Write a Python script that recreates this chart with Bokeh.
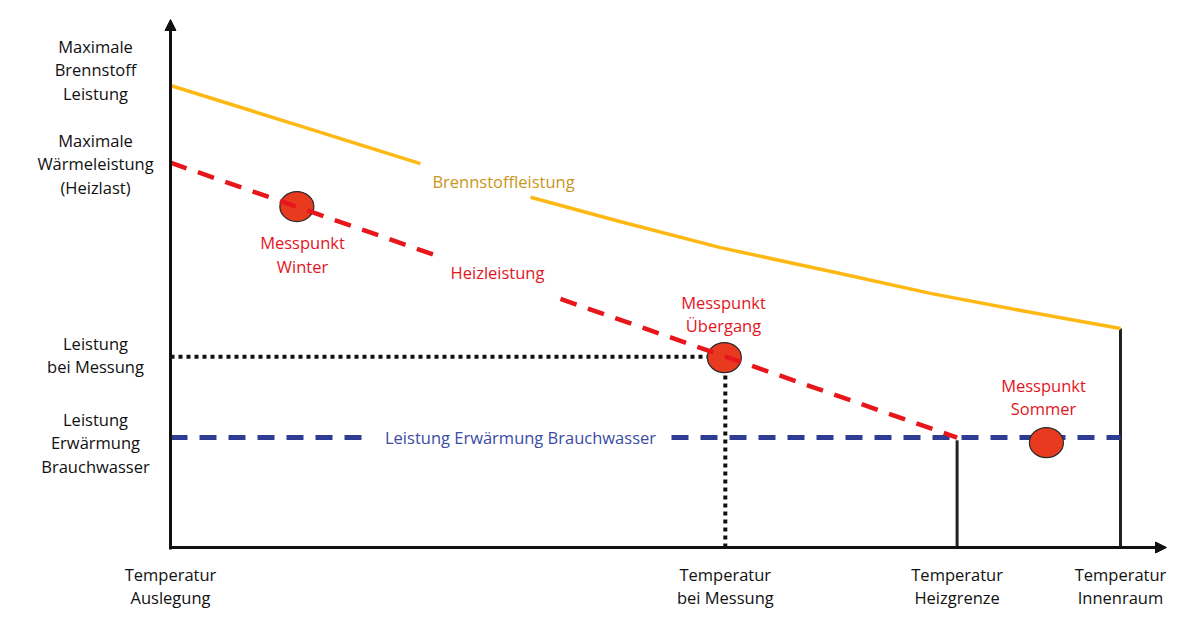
import numpy as np
from bokeh.plotting import figure
from bokeh.models import Range1d, Arrow, NormalHead
from bokeh.core.properties import value
from bokeh.embed import file_html
from bokeh.resources import INLINE

# ---------------- data (schematic units: temperature 0..100, power 0..100) -------------
temp_names = ["Temperatur\nAuslegung", "Temperatur\nbei Messung",
              "Temperatur\nHeizgrenze", "Temperatur\nInnenraum"]
temp_values = [0.0, 58.4, 82.8, 100.0]

power_names = ["Maximale\nBrennstoff\nLeistung", "Maximale\nWärmeleistung\n(Heizlast)",
               "Leistung\nbei Messung", "Leistung\nErwärmung\nBrauchwasser"]
power_values = [100.0, 83.3, 41.3, 23.8]

# Brennstoffleistung curve
fuel_t = [0.0, 13.7, 26.3, 37.9, 47.4, 57.9, 70.5, 80.0, 90.5, 100.0]
fuel_p = [100.0, 91.2, 83.1, 75.8, 70.5, 64.9, 59.3, 55.0, 50.9, 47.4]

# Heizleistung line: from Auslegung (Heizlast) to Heizgrenze (Brauchwasser level)
heat_t = [0.0, 82.8]
heat_p = [83.3, 23.8]

# Brauchwasser level
dhw_t = [0.0, 100.0]
dhw_p = [23.8, 23.8]

# measurement points
meas_names = ["Messpunkt\nWinter", "Messpunkt\nÜbergang", "Messpunkt\nSommer"]
meas_t = [13.3, 58.3, 92.2]
meas_p = [73.8, 41.1, 22.7]

curve_labels = ["Brennstoffleistung", "Heizleistung", "Leistung Erwärmung Brauchwasser"]

# ---------------- layout helpers (reference pixel <-> schematic units) ----------------
X0, XS = 170.0, 9.5     # pixel of t=0, pixels per unit
Y0, YS = 547.0, 4.62    # pixel of p=0, pixels per unit
def tx(px): return (px - X0) / XS
def py(pyy): return (Y0 - pyy) / YS

FONT = value("Open Sans")
FS = "16.5px"
LH = 1.03
W, H = 1184, 612

p = figure(width=W, height=H, output_backend="svg", toolbar_location=None,
           x_range=Range1d(tx(0), tx(W)), y_range=Range1d(py(H), py(0)),
           x_axis_type=None, y_axis_type=None, min_border=0)
p.grid.visible = False
p.outline_line_color = None
p.background_fill_color = "white"

# dotted measurement guides
i_mess = 1
p.line([0, temp_values[i_mess]], [power_values[2], power_values[2]],
       line_color="#111111", line_width=4, line_dash="4 4")
p.line([temp_values[i_mess], temp_values[i_mess]], [0, power_values[2]],
       line_color="#111111", line_width=4, line_dash="4 4")

# vertical boundary lines
p.line([temp_values[2], temp_values[2]], [0, dhw_p[0] - 0.6], line_color="#222222", line_width=3)
p.line([temp_values[3], temp_values[3]], [0, fuel_p[-1]], line_color="#222222", line_width=3)

# Brennstoffleistung (split around label)
yellow = "#FDB813"
p.line(fuel_t[:3], fuel_p[:3], line_color=yellow, line_width=3.5, line_join="round")
p.line(fuel_t[3:], fuel_p[3:], line_color=yellow, line_width=3.5, line_join="round")

# Brauchwasser dashed line (gap for label)
blue = "#2F3C94"
g0, g1 = tx(366), tx(671)
p.line([dhw_t[0], g0], [dhw_p[0], dhw_p[0]], line_color=blue, line_width=5, line_dash="17 12")
p.line([g1, dhw_t[1]], [dhw_p[1], dhw_p[1]], line_color=blue, line_width=5, line_dash="17 12")

# measurement points
p.ellipse(meas_t, meas_p, width=34, height=30, width_units="screen", height_units="screen",
          fill_color="#E83A1F", line_color="#2a2a2a", line_width=1.2)

# Heizleistung dashed line (gap for label)
red = "#E8161B"
h0, h1 = tx(435), tx(560)
p.line([heat_t[0], h0], [heat_p[0], np.interp(h0, heat_t, heat_p)],
       line_color=red, line_width=4.5, line_dash="17 12")
p.line([h1, heat_t[1]], [np.interp(h1, heat_t, heat_p), heat_p[1]],
       line_color=red, line_width=4.5, line_dash="17 12")

# axes with arrow heads
p.add_layout(Arrow(x_start=0, y_start=py(549), x_end=0, y_end=py(19),
                   line_width=3, line_color="#111111",
                   end=NormalHead(size=11, fill_color="#111111", line_color="#111111")))
p.add_layout(Arrow(x_start=tx(168.5), y_start=0, x_end=tx(1166), y_end=0,
                   line_width=3, line_color="#111111",
                   end=NormalHead(size=11, fill_color="#111111", line_color="#111111")))

# axis labels
p.text(temp_values, [py(585.5)] * 4, text=temp_names, text_align="center",
       text_baseline="middle", text_font=FONT, text_font_size=FS, text_color="#111111",
       text_line_height=LH)
p.text([tx(95)] * 4, [py(69.5), py(163.5), py(354.5), py(442.5)], text=power_names,
       text_align="center", text_baseline="middle", text_font=FONT, text_font_size=FS,
       text_color="#111111", text_line_height=LH)

# curve labels
p.text([tx(503)], [py(181)], text=[curve_labels[0]], text_align="center", text_baseline="middle",
       text_font=FONT, text_font_size=FS, text_color="#C9961A")
p.text([tx(497)], [py(272)], text=[curve_labels[1]], text_align="center", text_baseline="middle",
       text_font=FONT, text_font_size=FS, text_color="#E3161E")
p.text([tx(520)], [dhw_p[0]], text=[curve_labels[2]], text_align="center", text_baseline="middle",
       text_font=FONT, text_font_size=FS, text_color="#3A4CA4")

# measurement labels
p.text([tx(302), tx(723), tx(1043)], [py(254), py(313.5), py(396.5)], text=meas_names,
       text_align="center", text_baseline="middle", text_font=FONT, text_font_size=FS,
       text_color="#E3161E", text_line_height=LH)

open("out.html", "w").write(file_html(p, INLINE))
